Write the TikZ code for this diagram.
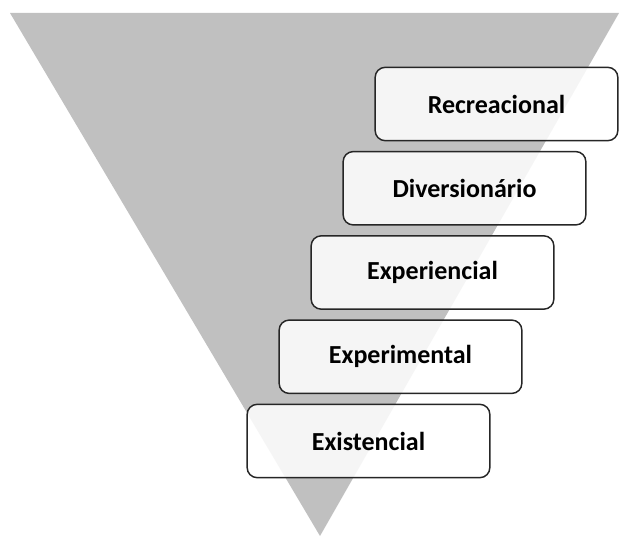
\documentclass[tikz,border=0pt]{standalone}
\usepackage{fontspec}
\setmainfont{Carlito}

\definecolor{funnelgray}{HTML}{C0C0C0}
\definecolor{edgegray}{HTML}{262626}

\tikzset{
  every stage/.style={draw=edgegray, line width=1.1pt, rounded corners=7.5pt,
    fill=white, fill opacity=0.85, text opacity=1,
    minimum width=182pt, minimum height=55pt, inner sep=0pt,
    font=\fontsize{19.5}{23}\selectfont\bfseries},
}

\begin{document}
\begin{tikzpicture}[x=0.75pt, y=0.75pt]

\useasboundingbox (0,0) rectangle (623,536);

% funnel
\fill [funnelgray] (10,523) -- (619,523) -- (320,0) -- cycle;

\foreach \l [count=\y] in {Recreacional,Diversionário,Experiencial,Experimental,Existencial}
  \node [every stage/.try] (stage-\y) at (528.5-\y*32, 516.25-\y*84.25) {\l};

\end{tikzpicture}
\end{document}
